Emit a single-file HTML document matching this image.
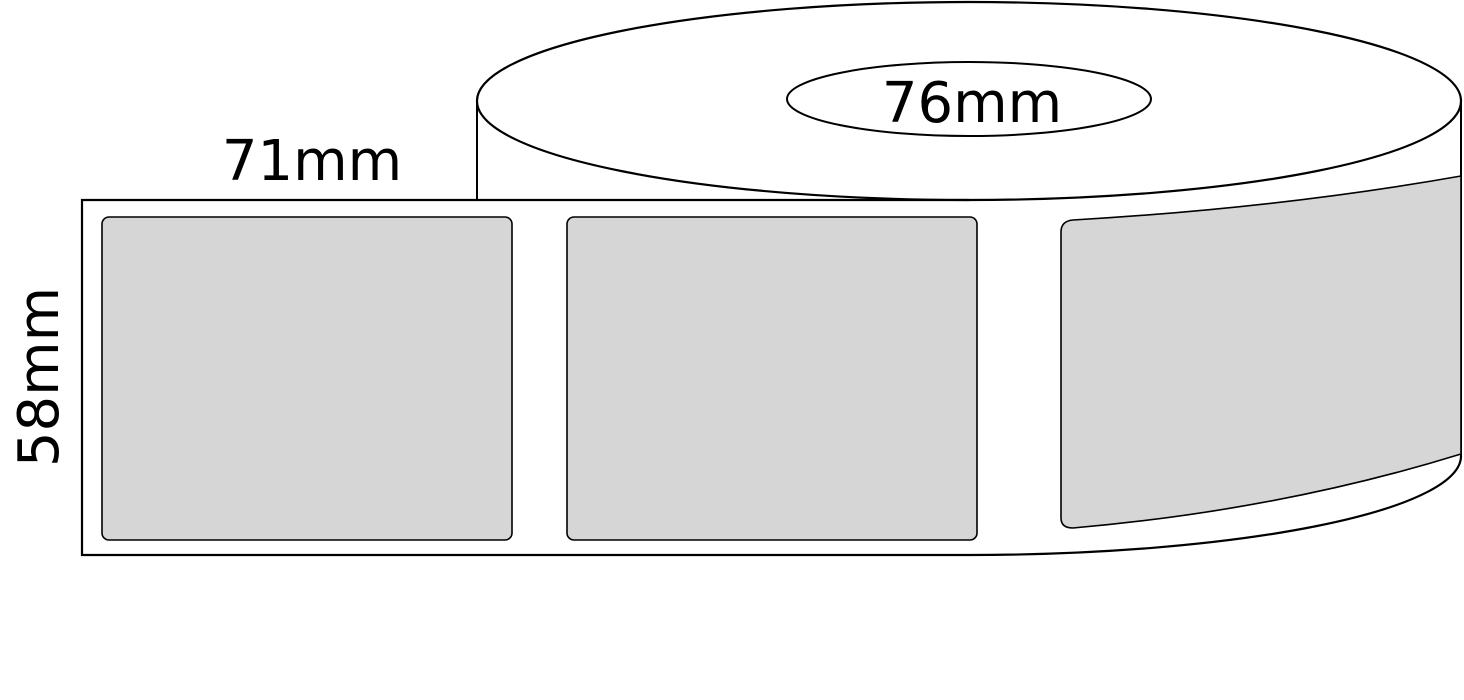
<!DOCTYPE html>
<html><head><meta charset="utf-8"><style>
html,body{margin:0;padding:0;background:#fff;}
svg{display:block;}
text{font-family:"DejaVu Sans","Liberation Sans",sans-serif;fill:#000;}
</style></head><body>
<svg width="1464" height="700" viewBox="0 0 1464 700" xmlns="http://www.w3.org/2000/svg">
<path d="M477,101 L477,200 L82,200 L82,555 L969,555 A492,99 0 0 0 1461,456 L1461,101 Z" fill="#fff" stroke="none"/>
<ellipse cx="969" cy="101" rx="492" ry="99" fill="#fff" stroke="#000" stroke-width="2.2"/>
<line x1="477" y1="101" x2="477" y2="200" stroke="#000" stroke-width="2"/>
<line x1="1461" y1="101" x2="1461" y2="456" stroke="#000" stroke-width="2"/>
<path d="M969,200 L82,200 L82,555 L969,555 A492,99 0 0 0 1461,456" fill="none" stroke="#000" stroke-width="2.2"/>
<ellipse cx="969" cy="99" rx="182" ry="37" fill="#fff" stroke="#000" stroke-width="2"/>
<rect x="102" y="217" width="410" height="323" rx="7" fill="#d6d6d6" stroke="#000" stroke-width="1.6"/>
<rect x="567" y="217" width="410" height="323" rx="7" fill="#d6d6d6" stroke="#000" stroke-width="1.6"/>
<path d="M1061,232 Q1061,221 1073,220 Q1280,208 1461,176 L1461,454 Q1280,510 1073,528 Q1061,528 1061,518 Z" fill="#d6d6d6" stroke="#000" stroke-width="1.6"/>
<text x="972" y="122" font-size="56" text-anchor="middle">76mm</text>
<text x="312" y="180" font-size="56" text-anchor="middle">71mm</text>
<text transform="translate(58,377) rotate(-90)" font-size="56" text-anchor="middle">58mm</text>
</svg>
</body></html>
